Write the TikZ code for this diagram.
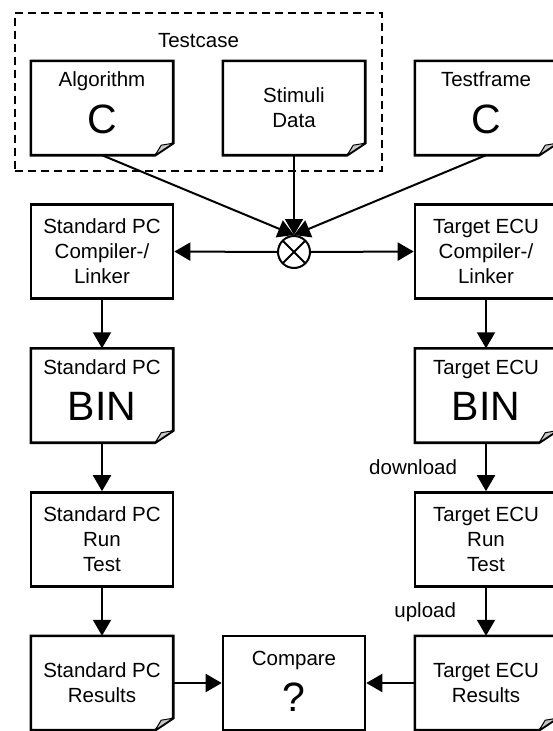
\documentclass[tikz,border=0pt]{standalone}
\usepackage{fontspec}
\setmainfont{Liberation Sans}
\usetikzlibrary{arrows.meta,positioning}

\newcommand{\boxfont}{\fontsize{20.5pt}{25pt}\selectfont}
\newcommand{\glyphfont}{\fontsize{41pt}{49pt}\selectfont}

% outline of a document box with a folded corner
\newcommand{\docoutline}[1]{%
  \draw[boxline] (#1.north west) -- (#1.north east) -- ([yshift=12pt]#1.south east)
    -- ([xshift=-18pt]#1.south east) -- (#1.south west) -- cycle;
  \draw[flap] ([yshift=12pt]#1.south east) -- ([xshift=-12pt,yshift=10pt]#1.south east)
    -- ([xshift=-18pt]#1.south east) -- cycle;}

\tikzset{
  boxline/.style={line width=2.6pt},
  procbox/.style={boxline, draw, minimum width=142pt, minimum height=94pt, inner sep=0pt, align=center, font=\boxfont},
  docbox/.style={minimum width=142pt, minimum height=94pt, inner sep=0pt, align=center, font=\boxfont},
  flap/.style={line width=1pt, fill=gray!45, line join=round},
  flow/.style={line width=2pt, -{Triangle[length=16pt,width=18pt]}},
  tag/.style={font=\boxfont, inner sep=0pt, anchor=base},
  bigtag/.style={font=\glyphfont, inner sep=0pt, anchor=base},
  flowlabel/.style={font=\boxfont, inner sep=0pt},
  groupframe/.style={draw, line width=2pt, dash pattern=on 8pt off 5pt, minimum width=367pt, minimum height=158pt},
  mixer/.style={draw, circle, line width=2pt, minimum size=32pt, inner sep=0pt,
    path picture={\draw[line width=2pt] (path picture bounding box.north west) -- (path picture bounding box.south east)
      (path picture bounding box.north east) -- (path picture bounding box.south west);}}
}

\begin{document}
\begin{tikzpicture}[x=1pt, y=-1pt]
\useasboundingbox (0,0) rectangle (553,731);
\clip (0,0) rectangle (553,731);

%% test case group
\node[groupframe] (testcase) at (198.5,92) {};
\node[tag] (tctxt) at ([yshift=-35pt]testcase.north) {Testcase};

\node[docbox] (alg) at (102,108) {};
\node[tag] (algtxt) at ([yshift=-26pt]alg.north) {Algorithm};
\node[bigtag] (algc) at ([yshift=-73pt]alg.north) {C};
\node[docbox] (stim) at (294,108) {Stimuli\\Data};
\node[docbox] (tfr) at (486,108) {};
\node[tag] (tfrtxt) at ([yshift=-26pt]tfr.north) {Testframe};
\node[bigtag] (tfrc) at ([yshift=-73pt]tfr.north) {C};

\node[mixer] (mix) at (294,252) {};

\node[procbox] (pccomp) at (102,251.5) {Standard PC\\Compiler-/\\Linker};
\node[procbox] (ecucomp) at (486,251.5) {Target ECU\\Compiler-/\\Linker};

\node[docbox] (pcbin) at (102,395.5) {};
\node[tag] (pcbintxt) at ([yshift=-26pt]pcbin.north) {Standard PC};
\node[bigtag] (pcbinbig) at ([yshift=-72pt]pcbin.north) {BIN};
\node[docbox] (ecubin) at (486,395.5) {};
\node[tag] (ecubintxt) at ([yshift=-26pt]ecubin.north) {Target ECU};
\node[bigtag] (ecubinbig) at ([yshift=-72pt]ecubin.north) {BIN};

\node[procbox] (pcrun) at (102,539.5) {Standard PC\\Run\\Test};
\node[procbox] (ecurun) at (486,539.5) {Target ECU\\Run\\Test};

\node[docbox] (pcres) at (102,683) {Standard PC\\Results};
\node[procbox] (cmp) at (294,683) {};
\node[tag] (cmptxt) at ([yshift=-30.5pt]cmp.north) {Compare};
\node[bigtag] (cmpq) at ([yshift=-76.5pt]cmp.north) {?};
\node[docbox] (ecures) at (486,683) {Target ECU\\Results};

\docoutline{alg}
\docoutline{stim}
\docoutline{tfr}
\docoutline{pcbin}
\docoutline{ecubin}
\docoutline{pcres}
\docoutline{ecures}

\draw[flow] (alg.south) -- (mix.north);
\draw[flow] (stim.south) -- (mix.north);
\draw[flow] (tfr.south) -- (mix.north);
\draw[flow] (mix.west) -- (pccomp.east);
\draw[flow] (mix.east) -- (ecucomp.west);

\draw[flow] (pccomp) -- (pcbin);
\draw[flow] (pcbin) -- (pcrun);
\draw[flow] (pcrun) -- (pcres);

\draw[flow] (ecucomp) -- (ecubin);
\draw[flow] (ecubin) -- node[flowlabel, left=28pt] (dl) {download} (ecurun);
\draw[flow] (ecurun) -- node[flowlabel, left=29pt] (ul) {upload} (ecures);

\draw[flow] (pcres) -- (cmp);
\draw[flow] (ecures) -- (cmp);
\end{tikzpicture}
\end{document}
